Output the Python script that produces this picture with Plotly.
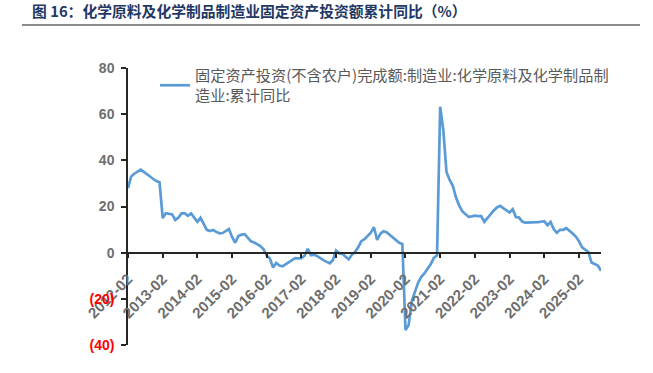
import plotly.graph_objects as go

years = list(range(2012, 2026))
months = ["02", "03", "04", "05", "06", "07", "08", "09", "10", "11", "12"]
categories = [f"{y}-{m}" for y in years for m in months][:151]

values = [
    # 2012
    28.0, 33.0, 34.2, 35.0, 36.0, 35.0, 33.8, 33.0, 31.9, 31.0, 30.5,
    # 2013
    15.0, 17.1, 16.8, 16.6, 14.2, 15.2, 17.0, 17.0, 16.0, 17.0, 15.2,
    # 2014
    13.4, 15.1, 12.3, 9.9, 9.4, 9.8, 9.0, 8.4, 8.5, 9.4, 10.2,
    # 2015
    6.8, 4.3, 7.2, 7.8, 8.0, 6.3, 4.9, 4.4, 3.8, 2.9, 1.5,
    # 2016
    -1.3, -2.5, -6.4, -4.5, -5.6, -5.9, -5.0, -4.2, -3.2, -2.4, -2.5,
    # 2017
    -2.4, -1.3, 1.7, -1.1, -0.9, -1.5, -2.2, -3.2, -4.0, -4.6, -3.2,
    # 2018
    0.9, -0.3, -0.5, -1.8, -2.9, -0.9, 0.3, 2.3, 5.0, 5.8, 7.2,
    # 2019
    8.7, 11.0, 5.5, 8.1, 9.3, 8.9, 7.8, 6.7, 5.5, 4.3, 3.8,
    # 2020
    -33.5, -31.3, -21.0, -17.0, -13.0, -10.5, -9.0, -7.0, -5.0, -2.3, -1.2,
    # 2021
    63.2, 53.0, 35.0, 31.5, 29.0, 24.0, 20.5, 18.0, 16.7, 15.5, 15.7,
    # 2022
    16.0, 15.8, 15.8, 13.3, 15.0, 16.8, 18.3, 19.6, 20.3, 19.3, 18.5,
    # 2023
    17.4, 18.8, 15.4, 15.2, 13.5, 13.0, 13.0, 13.0, 13.0, 13.2, 13.4,
    # 2024
    13.6, 11.9, 13.3, 10.2, 8.6, 9.9, 9.9, 10.6, 9.6, 8.3, 7.0,
    # 2025
    5.0, 2.3, 1.2, 0.3, -4.3, -5.0, -5.6, -7.8,
]

xtick_vals = [f"{y}-02" for y in years]
ytick_vals = [80, 60, 40, 20, 0, -20, -40]
ytick_text = ["80", "60", "40", "20", "0",
              "<span style='color:#FF0000'>(20)</span>",
              "<span style='color:#FF0000'>(40)</span>"]

series_name = "固定资产投资(不含农户)完成额:制造业:化学原料及化学制品制<br>造业:累计同比"
title_text = "图 16：化学原料及化学制品制造业固定资产投资额累计同比（%）"

fig = go.Figure()
fig.add_trace(go.Scatter(
    x=categories, y=values, mode="lines", name=series_name,
    line=dict(color="#5B9BD5", width=2.7),
))

W, H = 653, 373
L, R, T, B = 128, 52, 68, 28
pw = W - L - R
ph = H - T - B

def px_x(px):
    return (px - L) / pw

def px_y(py):
    return (H - B - py) / ph

fig.update_layout(
    width=W, height=H,
    margin=dict(l=L, r=R, t=T, b=B),
    paper_bgcolor="white", plot_bgcolor="white",
    showlegend=True,
    legend=dict(
        x=px_x(155), y=px_y(59), xanchor="left", yanchor="top",
        font=dict(family="Noto Sans CJK SC", size=15.2, color="#595959"),
        bgcolor="rgba(0,0,0,0)", borderwidth=0,
    ),
    title=dict(
        text=title_text, xref="container", yref="container",
        x=32 / W, xanchor="left", y=1 - 12 / H, yanchor="middle",
        font=dict(family="Noto Sans CJK SC", size=14.8, color="#1F3864", weight="bold"),
    ),
    xaxis=dict(
        type="category", categoryorder="array", categoryarray=categories,
        range=[0, len(categories) - 1],
        tickmode="array", tickvals=xtick_vals, ticktext=xtick_vals,
        tickangle=-45,
        tickfont=dict(family="Liberation Sans, Arial", size=15, color="#6E6E6E", weight="bold"),
        showline=True, linecolor="#262626", linewidth=1.5,
        ticks="outside", ticklen=5, tickcolor="#262626", tickwidth=1.5,
        ticklabelstandoff=6,
        showgrid=False, zeroline=False,
        anchor="free", position=1 / 3,
    ),
    yaxis=dict(
        range=[-40, 80],
        tickmode="array", tickvals=ytick_vals, ticktext=ytick_text,
        tickfont=dict(family="Liberation Sans, Arial", size=14, color="#6E6E6E", weight="bold"),
        showline=True, linecolor="#262626", linewidth=1.5,
        ticks="outside", ticklen=5, tickcolor="#262626", tickwidth=1.5,
        ticklabelstandoff=4,
        showgrid=False, zeroline=False,
    ),
    shapes=[dict(
        type="line", xref="paper", yref="paper",
        x0=px_x(22), x1=px_x(640), y0=px_y(25), y1=px_y(25),
        line=dict(color="#8C8C8C", width=2),
    )],
)

fig.write_html("out.html")
